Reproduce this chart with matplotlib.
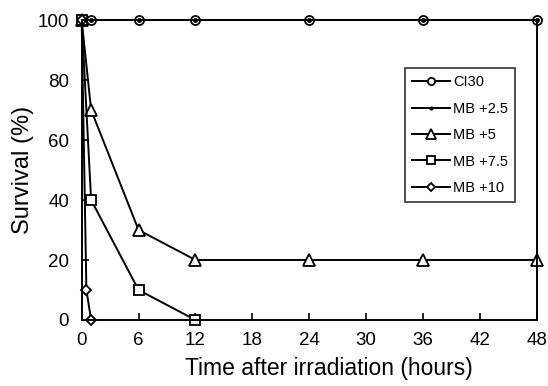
import matplotlib.pyplot as plt

plt.rcParams['font.family'] = ['Liberation Sans', 'DejaVu Sans']

# hours after irradiation
t_full = [0, 1, 6, 12, 24, 36, 48]
ci30 = [100, 100, 100, 100, 100, 100, 100]
mb25 = [100, 100, 100, 100, 100, 100, 100]
mb5 = [100, 70, 30, 20, 20, 20, 20]
t_75 = [0, 1, 6, 12]
mb75 = [100, 40, 10, 0]
t_10 = [0, 0.5, 1]
mb10 = [100, 10, 0]

xticks = [0, 6, 12, 18, 24, 30, 36, 42, 48]
yticks = [0, 20, 40, 60, 80, 100]

fig = plt.figure(figsize=(5.48, 3.86), dpi=100)
ax = fig.add_axes([0.149, 0.171, 0.831, 0.777])

style = dict(color="black", lw=1.4, markerfacecolor="white", markeredgecolor="black",
             markeredgewidth=1.3, clip_on=False)
ax.plot(t_full, ci30, marker="o", ms=6.5, label="CI30", **style)
ax.plot(t_full, mb25, marker="o", ms=2.5, color="black", lw=1.4, clip_on=False,
        markerfacecolor="black", label="MB +2.5")
ax.plot(t_full, mb5, marker="^", ms=8.5, label="MB +5", **style)
ax.plot(t_75, mb75, marker="s", ms=7, label="MB +7.5", **style)
ax.plot(t_10, mb10, marker="D", ms=5.5, label="MB +10", **style)

ax.set_xlim(0, 48)
ax.set_ylim(0, 100)
ax.set_xticks(xticks)
ax.set_yticks(yticks)
ax.tick_params(direction="in", length=5, width=1.2, labelsize=13.5)
ax.tick_params(axis="x", pad=9)
ax.tick_params(axis="y", pad=9)
for s in ax.spines.values():
    s.set_linewidth(1.4)

ax.set_xlabel("Time after irradiation (hours)", fontsize=16.5, labelpad=3)
ax.xaxis.set_label_coords(0.543, -0.125)
ax.set_ylabel("Survival (%)", fontsize=17, labelpad=3)

leg = ax.legend(loc="upper right", bbox_to_anchor=(0.952, 0.84), fontsize=10.5,
                frameon=True, fancybox=False, handlelength=2.6, handletextpad=0.2,
                labelspacing=0.85, borderpad=0.5, borderaxespad=0, markerscale=0.8)
leg.get_frame().set_edgecolor("black")
leg.get_frame().set_linewidth(1.2)

fig.savefig("out.png", dpi=100)
